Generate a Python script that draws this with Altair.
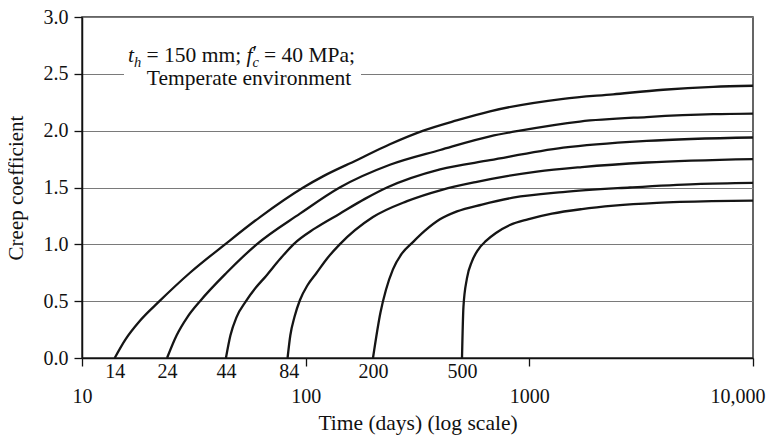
import altair as alt
import pandas as pd

FONT = "Liberation Serif"
INK = "#111111"

# Age at loading (days) for each curve
ages = [14, 24, 44, 84, 200, 500]

# Time (days) and creep coefficient
t14 = [14, 15.6, 18.2, 22.2, 30.4, 43.6, 62.5, 97.6, 120, 169, 238, 336, 473, 667, 1418, 2370, 3970, 6640, 10000]
c14 = [0, 0.16, 0.33, 0.50, 0.75, 1.00, 1.24, 1.50, 1.60, 1.74, 1.88, 2.00, 2.09, 2.17, 2.28, 2.32, 2.36, 2.385, 2.395]

t24 = [24, 26.5, 29.6, 33.7, 44.3, 60.4, 94.3, 142, 238, 399, 667, 908, 1683, 3344, 6640, 10000]
c24 = [0, 0.20, 0.36, 0.50, 0.75, 1.00, 1.27, 1.50, 1.70, 1.83, 1.95, 2.00, 2.08, 2.12, 2.145, 2.15]

t44 = [44, 46.1, 49.1, 54.1, 59.9, 66.4, 76.8, 88.2, 110, 142, 184, 231, 399, 667, 1418, 3344, 10000]
c44 = [0, 0.20, 0.36, 0.50, 0.62, 0.72, 0.87, 1.00, 1.14, 1.27, 1.40, 1.50, 1.66, 1.74, 1.85, 1.91, 1.94]

t84 = [83, 85.4, 89.1, 94.3, 101.9, 112, 125.2, 142, 200, 284, 407, 583, 794, 1081, 1718, 3355, 10000]
c84 = [0, 0.20, 0.36, 0.51, 0.64, 0.75, 0.88, 1.00, 1.24, 1.38, 1.48, 1.55, 1.60, 1.64, 1.68, 1.72, 1.75]

t200 = [200, 216, 228.6, 245.6, 269.5, 301.8, 341.5, 398.4, 474.7, 614, 845, 1413, 2816, 5554, 10000]
c200 = [0, 0.40, 0.60, 0.78, 0.92, 1.02, 1.12, 1.22, 1.29, 1.35, 1.41, 1.46, 1.50, 1.53, 1.54]

t500 = [500, 507.5, 526, 554, 589, 640, 709, 819, 985, 1262, 1718, 2389, 3719, 6551, 10000]
c500 = [0, 0.45, 0.70, 0.85, 0.95, 1.03, 1.10, 1.17, 1.22, 1.27, 1.31, 1.34, 1.365, 1.38, 1.385]

x_ticks = [10, 14, 24, 44, 84, 100, 200, 500, 1000, 10000]
y_ticks = [0, 0.5, 1.0, 1.5, 2.0, 2.5, 3.0]

series = [(14, t14, c14), (24, t24, c24), (44, t44, c44),
          (84, t84, c84), (200, t200, c200), (500, t500, c500)]
rows = []
for age, ts, cs in series:
    for t, c in zip(ts, cs):
        rows.append({"age": age, "t": t, "c": c})
df = pd.DataFrame(rows)

major = "datum.value == 10 || datum.value == 100 || datum.value == 1000 || datum.value == 10000"
last = "datum.value == 10000"

x_axis = alt.Axis(
    values=x_ticks,
    title="Time (days) (log scale)",
    labelExpr="datum.value == 10000 ? '10,000' : format(datum.value, 'd')",
    labelFont=FONT, labelFontSize=20, labelColor=INK,
    labelBaseline="middle",
    labelPadding={"condition": {"test": major, "value": 30}, "value": 5},
    labelAlign={"condition": {"test": last, "value": "right"}, "value": "center"},
    labelOffset={"condition": {"test": last, "value": 12}, "value": 0},
    labelOverlap=False, labelBound=False, labelFlush=False,
    tickOpacity={"condition": {"test": major, "value": 1}, "value": 0},
    tickSize=8, tickColor=INK, tickWidth=1.3,
    domainColor=INK, domainWidth=1.5,
    grid=False,
    titleFont=FONT, titleFontSize=21.5, titleFontWeight="normal", titleColor=INK,
    titleY=65, titleBaseline="middle",
)

y_axis = alt.Axis(
    values=y_ticks, format=".1f",
    title="Creep coefficient",
    labelFont=FONT, labelFontSize=20, labelColor=INK, labelPadding=6,
    tickSize=8, tickColor=INK, tickWidth=1.3,
    domainColor=INK, domainWidth=1.5,
    grid=True, gridColor="#7a7a7a", gridWidth=1.2,
    titleFont=FONT, titleFontSize=21, titleFontWeight="normal", titleColor=INK,
    titleX=-66, titleY=170.5, titleAngle=270, titleBaseline="middle", titleAlign="center",
    zindex=0,
)

lines = alt.Chart(df).mark_line(color="#151515", strokeWidth=2.3, interpolate="monotone").encode(
    x=alt.X("t:Q", scale=alt.Scale(type="log", domain=[10, 10000], nice=False), axis=x_axis),
    y=alt.Y("c:Q", scale=alt.Scale(domain=[0, 3], nice=False), axis=y_axis),
    detail="age:N",
)

one = pd.DataFrame({"k": [0]})

box = alt.Chart(one).mark_rect(color="white").encode(
    x=alt.value(42), x2=alt.value(279), y=alt.value(49), y2=alt.value(72)
)

ANN = 21.5
SUB = 14.5


def txt(s, x, y, size=ANN, style="normal", align="left"):
    return alt.Chart(one).mark_text(
        text=s, font=FONT, fontSize=size, fontStyle=style, color=INK,
        align=align, baseline="alphabetic"
    ).encode(x=alt.value(x), y=alt.value(y))


texts = [
    txt("t", 46, 45, style="italic"),
    txt("h", 52, 50, size=SUB, style="italic"),
    txt("= 150 mm;", 64.6, 45),
    txt("f", 164.6, 45, style="italic"),
    txt("\u2032", 170.5, 43),
    txt("c", 170.5, 50, size=SUB, style="italic"),
    txt("= 40 MPa;", 182, 45),
    txt("Temperate environment", 167, 68, align="center"),
]

chart = alt.layer(box, lines, *texts).properties(
    width=671, height=341,
    autosize=alt.AutoSizeParams(type="none"),
    padding={"left": 74, "top": 9, "right": 13, "bottom": 80},
    background="white",
).configure_view(stroke="#333333", strokeWidth=1.5)

chart.save("out.html", embed_options={"renderer": "svg", "actions": False})
